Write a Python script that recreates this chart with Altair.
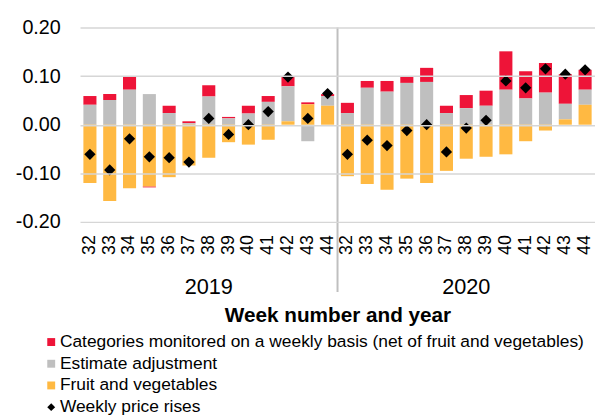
import altair as alt
import pandas as pd

years = ["2019", "2020"]
weeks = [32, 33, 34, 35, 36, 37, 38, 39, 40, 41, 42, 43, 44]

series_names = [
    "Categories monitored on a weekly basis (net of fruit and vegetables)",
    "Estimate adjustment",
    "Fruit and vegetables",
    "Weekly price rises",
]

# Categories monitored on a weekly basis (net of fruit and vegetables)
cat_2019 = [0.018, 0.012, 0.028, -0.002, 0.015, 0.004, 0.023, 0.003, 0.016, 0.012, 0.019, 0.004, 0.004]
cat_2020 = [0.021, 0.014, 0.022, 0.014, 0.029, 0.015, 0.027, 0.031, 0.079, 0.056, 0.061, 0.061, 0.041]
# Estimate adjustment
adj_2019 = [0.041, 0.051, 0.072, 0.063, 0.024, 0.003, 0.058, 0.013, 0.023, 0.047, 0.072, -0.034, 0.020]
adj_2020 = [0.024, 0.076, 0.068, 0.086, 0.088, 0.024, 0.034, 0.039, 0.072, 0.054, 0.066, 0.032, 0.031]
# Fruit and vegetables
fv_2019 = [-0.120, -0.157, -0.131, -0.127, -0.108, -0.084, -0.068, -0.036, -0.041, -0.031, 0.007, 0.042, 0.039]
fv_2020 = [-0.106, -0.122, -0.134, -0.111, -0.120, -0.095, -0.070, -0.066, -0.061, -0.034, -0.012, 0.011, 0.041]
# Weekly price rises
rise_2019 = [-0.061, -0.093, -0.029, -0.066, -0.068, -0.077, 0.013, -0.020, 0.000, 0.027, 0.098, 0.013, 0.064]
rise_2020 = [-0.061, -0.032, -0.043, -0.012, 0.000, -0.056, -0.007, 0.009, 0.090, 0.076, 0.115, 0.104, 0.113]

colors = ["#EE1438", "#BFBFBF", "#FFB942", "#000000"]
shapes = ["square", "square", "square", "diamond"]

keys = [f"{y}-{w}" for y in years for w in weeks]

bar_sets = {
    series_names[0]: (cat_2019 + cat_2020, 2),
    series_names[1]: (adj_2019 + adj_2020, 1),
    series_names[2]: (fv_2019 + fv_2020, 0),
}
bar_rows = []
for name, (vals, order) in bar_sets.items():
    for k, v in zip(keys, vals):
        bar_rows.append({"key": k, "series": name, "value": v, "order": order})
bars_df = pd.DataFrame(bar_rows)

pts_df = pd.DataFrame({"key": keys, "series": series_names[3], "value": rise_2019 + rise_2020})
div_df = pd.DataFrame({"key": [f"{years[1]}-{weeks[0]}"]})
year_df = pd.DataFrame({"key": [f"{y}-{weeks[6]}" for y in years], "year": years})

FONT = "Arial"

color_scale = alt.Scale(domain=series_names, range=colors)
shape_scale = alt.Scale(domain=series_names, range=shapes)
legend = alt.Legend(
    orient="none", legendX=-38, legendY=310, title=None, labelFontSize=17.6,
    labelFont=FONT, labelLimit=0, symbolSize=64, rowPadding=3, labelOffset=0,
    padding=0, symbolStrokeWidth=0, labelColor="#000000",
)

x_enc = alt.X(
    "key:N",
    scale=alt.Scale(domain=keys, paddingInner=0.34, paddingOuter=0.17),
    axis=alt.Axis(
        labelExpr="split(datum.value, '-')[1]", labelAngle=270, labelFontSize=18,
        labelFont=FONT, labelPadding=13, labelColor="#000000", domain=False,
        ticks=False, grid=False, title="Week number and year", titleFontSize=21,
        titleFont=FONT, titleFontWeight="bold", titleColor="#000000", titleY=101,
        titleBaseline="alphabetic",
    ),
)

bars = alt.Chart(bars_df).mark_bar().encode(
    x=x_enc,
    y=alt.Y(
        "value:Q", stack="zero",
        scale=alt.Scale(domain=[-0.2, 0.2], nice=False),
        axis=alt.Axis(
            values=[-0.2, -0.15, -0.1, -0.05, 0, 0.05, 0.1, 0.15, 0.2],
            labelExpr="replace(format(datum.value, '.2f'), '\u2212', '-')",
            labelFontSize=20, labelFont=FONT, labelPadding=20, labelColor="#000000",
            domain=False, ticks=False, grid=True, gridColor="#D6D6D6", gridWidth=1.5,
            zindex=1, title=None,
        ),
    ),
    color=alt.Color("series:N", scale=color_scale, legend=legend),
    order=alt.Order("order:Q"),
)

points = alt.Chart(pts_df).mark_point(filled=True, size=130, opacity=1).encode(
    x="key:N",
    y="value:Q",
    color=alt.Color("series:N", scale=color_scale, legend=legend),
    shape=alt.Shape("series:N", scale=shape_scale, legend=legend),
)

divider = alt.Chart(div_df).mark_rule(color="#BFBFBF", strokeWidth=2, xOffset=-3.4).encode(
    x=alt.X("key:N", bandPosition=0),
    y=alt.value(0),
    y2=alt.value(268),
)

year_text = alt.Chart(year_df).mark_text(fontSize=22, font=FONT, baseline="alphabetic", color="#000000").encode(
    x="key:N",
    y=alt.value(270),
    text="year:N",
)

chart = alt.layer(bars, divider, points, year_text).properties(
    width=522, height=197,
    autosize=alt.AutoSizeParams(type="none"),
    padding={"left": 73, "top": 17, "right": 0, "bottom": 195},
    background="white",
).configure_view(stroke=None)

chart.save("out.html", embed_options={"renderer": "svg", "actions": False})
